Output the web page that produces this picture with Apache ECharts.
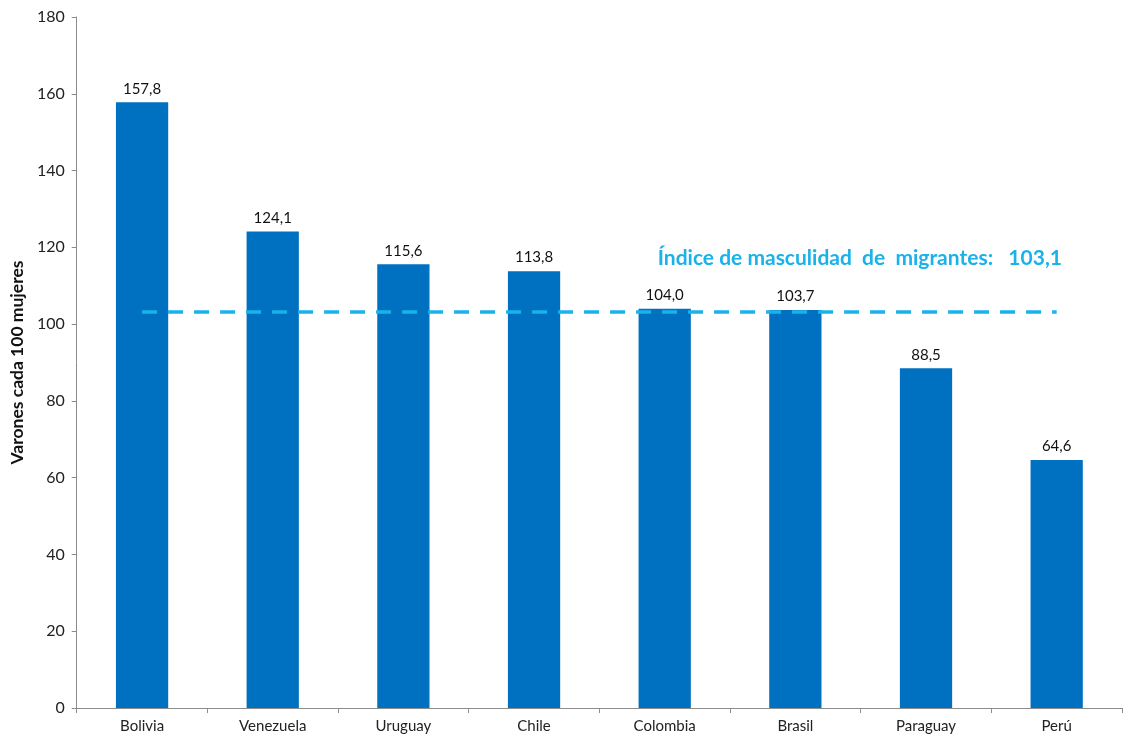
<!DOCTYPE html>
<html>
<head>
	<meta charset="UTF-8">
	<title></title>
	<script type="text/javascript" src="https://cdn.jsdelivr.net/npm/echarts@6/dist/echarts.min.js"></script>
	<style>
		html,body{margin:0;padding:0;background:#fff;}
		#chart{width:1123px;height:740px;}
	</style>
</head>
<body>
<div id="chart"></div>
<script>
	var paises = ['Bolivia','Venezuela','Uruguay','Chile','Colombia','Brasil','Paraguay','Perú'];
	var indice = [157.8, 124.1, 115.6, 113.8, 104.0, 103.7, 88.5, 64.6];
	var promedio = 103.1;
	var etiquetaPromedio = 'Índice de masculidad  de  migrantes:   103,1';

	var myChart = echarts.init(document.getElementById('chart'));
	var fuente = 'Lato';
	option = {
		animation: false,
		textStyle: {fontFamily: fuente},
		grid: {left: 71, right: 1, top: 17, bottom: 32},
		xAxis: {
			type: 'category',
			data: paises,
			axisLine: {lineStyle: {color: '#8c8c8c'}},
			axisTick: {show: true, length: 5, lineStyle: {color: '#8c8c8c'}},
			axisLabel: {color: '#222', fontSize: 15, margin: 11, fontFamily: fuente}
		},
		yAxis: {
			type: 'value',
			min: 0, max: 180, interval: 20,
			name: 'Varones cada 100 mujeres',
			nameLocation: 'middle',
			nameGap: 50,
			nameTextStyle: {color: '#111', fontSize: 17.5, fontWeight: 'bold', fontFamily: fuente},
			axisLine: {show: true, lineStyle: {color: '#8c8c8c'}},
			axisTick: {show: true, length: 5, lineStyle: {color: '#8c8c8c'}},
			splitLine: {show: false},
			axisLabel: {color: '#222', fontSize: 16, margin: 12, fontFamily: fuente}
		},
		series: [{
			type: 'bar',
			data: indice,
			barWidth: '40%',
			itemStyle: {color: '#0070C0'},
			label: {
				show: true, position: 'top', distance: 6, color: '#111', fontSize: 15, fontFamily: fuente,
				formatter: function (p) { return p.value.toFixed(1).replace('.', ','); }
			},
			markLine: {
				silent: true,
				symbol: 'none',
				z: 10,
				lineStyle: {color: '#19B2EA', type: [15, 11], width: 3.5},
				label: {show: false},
				data: [[{coord: [0, promedio]}, {coord: [7, promedio]}]]
			}
		}],
		graphic: [{
			type: 'text',
			right: 61,
			top: 248,
			style: {text: etiquetaPromedio, fill: '#19B2EA', font: 'bold 21px ' + fuente}
		}]
	};
	myChart.setOption(option);
</script>
</body>
</html>
